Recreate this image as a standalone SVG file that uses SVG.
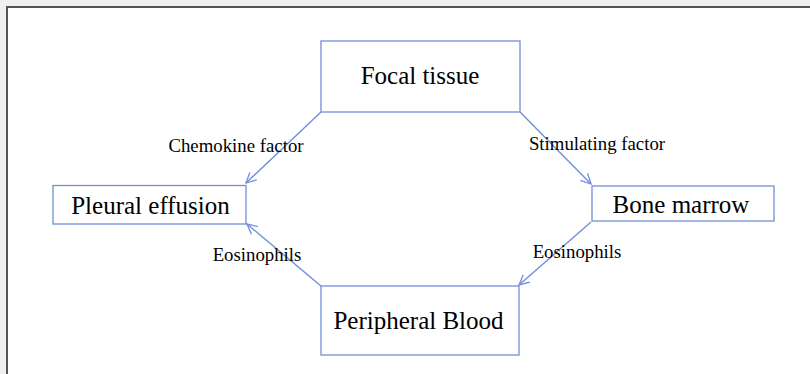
<svg xmlns="http://www.w3.org/2000/svg" width="810" height="374" viewBox="0 0 810 374">
<style>
.box{fill:#fff;stroke:#6f8fd8;stroke-width:1.3}
.lbl{font-family:'Liberation Serif','Times New Roman','DejaVu Serif',serif;font-size:25px;fill:#000;text-anchor:middle}
.elbl{font-family:'Liberation Serif','Times New Roman','DejaVu Serif',serif;font-size:18.8px;fill:#000;text-anchor:middle}
.conn{stroke:#6f8fd8;stroke-width:1.4;fill:none;marker-end:url(#arr)}
</style>
<defs>
<marker id="arr" viewBox="0 0 12 12" refX="11" refY="6" markerWidth="12" markerHeight="12" markerUnits="userSpaceOnUse" orient="auto">
<path d="M1,1 L11,6 L1,11" fill="none" stroke="#6f8fd8" stroke-width="1.3"/>
</marker>
</defs>
<rect x="0" y="0" width="810" height="374" fill="#f0f0f0"/>
<rect x="7" y="7" width="810" height="380" fill="#fff" stroke="#555" stroke-width="2"/>
<g id="connectors">
<line class="conn" x1="321" y1="112" x2="246" y2="183"/>
<line class="conn" x1="520" y1="112" x2="591" y2="184"/>
<line class="conn" x1="321" y1="286" x2="247" y2="224"/>
<line class="conn" x1="591" y1="222" x2="519" y2="285"/>
<text class="elbl" x="236" y="152">Chemokine factor</text>
<text class="elbl" x="597" y="150">Stimulating factor</text>
<text class="elbl" x="257" y="261">Eosinophils</text>
<text class="elbl" x="577" y="258">Eosinophils</text>
</g>
<g id="focal-tissue">
<rect class="box" x="321" y="41" width="199" height="71"/>
<text class="lbl" x="420" y="84">Focal tissue</text>
</g>
<g id="pleural-effusion">
<rect class="box" x="53" y="185.5" width="193" height="38.5"/>
<text class="lbl" x="150.5" y="214">Pleural effusion</text>
</g>
<g id="bone-marrow">
<rect class="box" x="592" y="186" width="182" height="35"/>
<text class="lbl" x="681" y="213">Bone marrow</text>
</g>
<g id="peripheral-blood">
<rect class="box" x="321" y="286" width="198" height="69"/>
<text class="lbl" x="418.5" y="329">Peripheral Blood</text>
</g>
</svg>
